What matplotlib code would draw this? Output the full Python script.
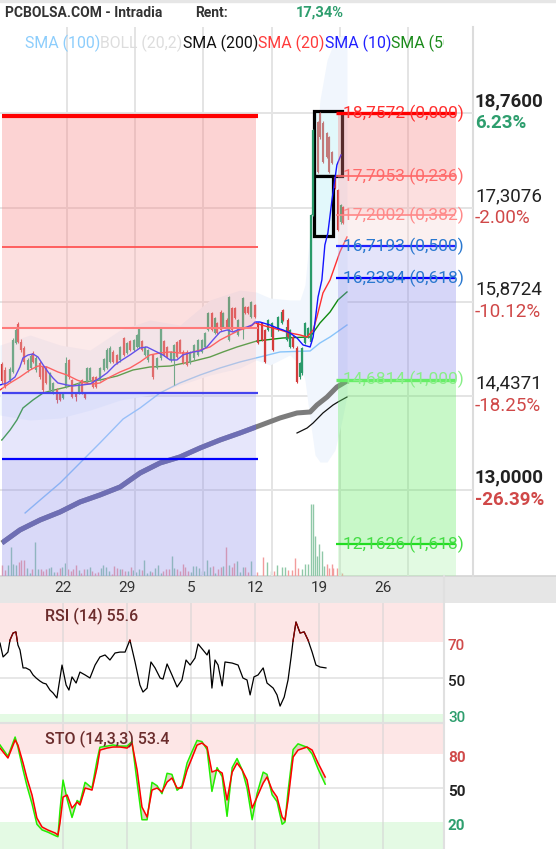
import numpy as np
import matplotlib
matplotlib.use("Agg")
import matplotlib.pyplot as plt
from matplotlib.patches import Rectangle
from matplotlib.lines import Line2D
from matplotlib.transforms import blended_transform_factory, offset_copy

plt.rcParams['font.family'] = ['Roboto', 'DejaVu Sans']

# ---------------- price bars (bar time, open, high, low, close) ----------------
candle_t = [0.7, 1.8, 3.7, 4.8, 5.9, 6.6, 7.7, 8.8, 10.3, 11.4, 12.1, 13.2, 14.7, 15.8, 16.8,
            18.3, 19.4, 20.9, 22.0, 23.1, 24.2, 25.3, 26.4, 27.8, 28.9, 30.0, 31.1, 31.9, 33.0,
            34.1, 35.2, 36.6, 38.1, 39.2, 40.3, 41.4, 42.9, 44.0, 45.4, 46.5, 47.6, 49.1, 50.2,
            50.9, 52.0, 53.1, 54.2, 56.0, 57.5, 59.0, 60.1, 61.2, 62.6, 63.7, 64.8, 65.9, 67.0,
            68.5, 69.6, 71.1, 72.5, 74.0, 75.1, 76.2, 77.7, 78.8, 79.5, 81.0, 81.7, 83.2, 83.9,
            85.0, 86.1, 87.2, 89.0, 89.7, 90.8, 91.9, 93.4, 94.5, 96.0, 97.1, 98.2, 99.6, 100.0,
            101.8, 103.3, 103.7, 105.1, 105.5, 106.2, 107.3, 108.8, 109.9, 110.6, 111.7, 112.8,
            113.9, 114.7, 122.7, 123.8, 124.9, 125.6]
opens = [14.92, 14.83, 14.68, 14.80, 15.24, 15.53, 15.26, 15.17, 14.83, 14.86, 15.09, 14.83, 14.94, 14.88, 14.86,
         14.52, 14.48, 14.52, 14.48, 14.40, 14.57, 14.98, 14.68, 14.48, 14.48, 14.68, 14.48, 14.63, 14.68,
         14.72, 14.72, 14.68, 14.83, 14.86, 14.95, 15.11, 15.06, 14.98, 15.32, 15.09, 15.27, 15.14, 15.18,
         15.18, 15.27, 15.06, 14.98, 15.06, 14.86, 15.01, 15.27, 15.18, 14.98, 14.98, 15.26, 15.29, 15.11,
         15.11, 14.94, 15.01, 15.06, 15.11, 15.18, 15.44, 15.70, 15.40, 15.55, 15.72, 15.49, 15.60, 15.29,
         15.78, 15.78, 15.37, 15.49, 15.79, 15.79, 15.64, 15.82, 15.55, 15.55, 15.44, 15.44, 15.34, 15.49,
         15.44, 15.55, 15.75, 15.29, 15.60, 15.18, 15.34, 15.17, 14.72, 14.78, 15.24, 15.34,
         15.26, 17.20, 17.78, 17.58, 17.09, 17.32]
highs = [14.96, 14.88, 14.88, 15.32, 15.47, 15.56, 15.30, 15.20, 15.01, 15.07, 15.12, 15.04, 14.97, 14.90, 14.89,
         14.80, 14.65, 14.55, 14.50, 14.50, 15.03, 15.00, 14.70, 14.50, 14.65, 14.70, 14.50, 14.88, 14.88,
         14.74, 14.74, 14.88, 15.02, 15.16, 15.19, 15.13, 15.08, 15.20, 15.34, 15.26, 15.29, 15.31, 15.38,
         15.47, 15.29, 15.20, 15.15, 15.08, 15.03, 15.47, 15.29, 15.20, 15.12, 15.23, 15.28, 15.31, 15.13,
         15.13, 15.12, 15.23, 15.30, 15.30, 15.41, 15.72, 15.72, 15.64, 15.57, 15.74, 15.72, 15.62, 15.96,
         15.80, 15.80, 15.61, 15.95, 15.81, 15.81, 15.89, 15.84, 15.57, 15.57, 15.46, 15.61, 15.57, 15.51,
         15.66, 15.74, 15.77, 15.50, 15.62, 15.46, 15.36, 15.19, 14.95, 15.18, 15.57, 15.49,
         17.22, 18.52, 17.80, 17.60, 17.37, 17.34]
lows = [14.62, 14.55, 14.64, 14.78, 15.22, 15.24, 15.10, 14.92, 14.80, 14.84, 14.93, 14.80, 14.70, 14.50, 14.61,
        14.50, 14.46, 14.33, 14.35, 14.38, 14.55, 14.70, 14.40, 14.36, 14.46, 14.46, 14.38, 14.61, 14.66,
        14.55, 14.55, 14.66, 14.81, 14.84, 14.93, 14.93, 14.92, 14.96, 15.04, 15.07, 15.12, 15.12, 15.16,
        15.16, 15.12, 15.04, 14.96, 14.70, 14.84, 14.99, 15.04, 15.01, 14.96, 14.60, 15.01, 15.09, 14.92,
        14.89, 14.92, 14.99, 15.04, 15.09, 15.16, 15.42, 15.42, 15.38, 15.38, 15.42, 15.47, 15.45, 15.27,
        15.42, 15.61, 15.35, 15.30, 15.68, 15.68, 15.62, 15.62, 15.22, 15.27, 14.93, 15.42, 15.32, 15.12,
        15.42, 15.53, 15.58, 15.27, 15.32, 15.16, 15.16, 14.63, 14.70, 14.76, 15.22, 15.32,
        15.24, 17.18, 17.60, 16.95, 17.07, 17.06]
closes = [14.66, 14.59, 14.85, 15.29, 15.44, 15.26, 15.14, 14.95, 14.98, 15.04, 14.95, 15.01, 14.72, 14.52, 14.63,
          14.78, 14.63, 14.37, 14.37, 14.48, 14.94, 14.72, 14.42, 14.42, 14.63, 14.48, 14.40, 14.86, 14.86,
          14.57, 14.57, 14.86, 15.00, 15.14, 15.17, 14.95, 14.94, 15.18, 15.06, 15.24, 15.14, 15.29, 15.37,
          15.46, 15.14, 15.18, 15.14, 14.72, 15.01, 15.46, 15.06, 15.03, 15.11, 15.21, 15.03, 15.11, 14.94,
          14.91, 15.11, 15.21, 15.29, 15.29, 15.40, 15.70, 15.44, 15.63, 15.40, 15.44, 15.70, 15.47, 15.95,
          15.44, 15.63, 15.60, 15.93, 15.70, 15.70, 15.87, 15.64, 15.24, 15.29, 14.95, 15.60, 15.55, 15.14,
          15.64, 15.72, 15.60, 15.49, 15.34, 15.44, 15.18, 14.65, 14.94, 15.17, 15.55, 15.47,
          17.20, 18.50, 17.61, 16.97, 17.35, 17.08]

# bars traded inside the two session boxes
box_bar_t = [116.5, 117.2, 118.3, 119.8, 120.5, 121.6]
box_bar_hi = [18.64, 18.78, 18.63, 18.47, 18.41, 18.18]
box_bar_lo = [17.84, 18.37, 17.99, 18.07, 17.84, 17.98]
box_bar_open = [18.62, 18.76, 18.61, 18.45, 18.39, 18.16]
box_bar_close = [17.86, 18.39, 18.01, 18.09, 17.86, 18.00]
session_boxes = [(115.0, 125.3, 17.797, 18.79), (115.0, 122.0, 16.879, 17.797)]

# volume (thousands)
vol_t = list(np.arange(92) + 0.85) + [94.1, 96.3, 97.8, 99.3, 100.4, 101.5, 103.3, 104.4, 105.5, 107.0,
                                       108.1, 109.2, 110.6, 111.7, 112.8, 113.9, 114.7, 115.4, 116.1, 116.8,
                                       117.9, 118.7, 119.8, 120.5, 121.6, 122.0, 123.4, 124.5, 125.3]
volumes = [11, 6, 11, 29, 12, 11, 14, 16, 16, 8, 3, 7, 34, 7, 7, 5, 7, 8, 9, 4,
           4, 8, 9, 13, 7, 5, 7, 11, 6, 3, 7, 7, 9, 5, 3, 4, 8, 11, 9, 5,
           2, 10, 8, 7, 7, 5, 5, 9, 6, 4, 7, 6, 16, 3, 5, 4, 8, 11, 3, 5,
           7, 7, 20, 8, 7, 5, 12, 9, 5, 4, 10, 10, 8, 5, 5, 16, 9, 10, 3, 7,
           9, 10, 29, 11, 9, 13, 15, 4, 9, 9, 4, 15,
           4, 19, 14, 5, 5, 11, 9, 9, 6, 6, 18, 8, 7, 12, 12, 72, 72, 40, 20, 32,
           25, 10, 12, 8, 12, 8, 8, 4, 3]

# moving averages
sma10_t = [0, 2.6, 5.5, 7.3, 8.4, 10.3, 12.1, 13.9, 15.8, 17.6, 19.4, 21.2, 24.5, 26.7, 30.0, 33.0, 36.6,
           39.2, 42.1, 44.7, 47.6, 51.3, 53.8, 56.0, 59.7, 62.3, 64.8, 67.0, 70.7, 73.3, 75.8, 78.0, 80.6,
           83.2, 85.3, 87.9, 90.5, 92.3, 93.4, 95.2, 98.9, 101.5, 103.7, 106.2, 108.8, 111.0, 113.6, 114.7,
           116.5, 117.9, 119.0, 120.1, 121.6, 123.4, 124.9]
sma10 = [14.601, 14.632, 14.723, 14.876, 15.014, 15.060, 15.075, 15.029, 14.907, 14.800, 14.708, 14.632,
         14.601, 14.586, 14.601, 14.616, 14.708, 14.785, 14.907, 14.983, 15.060, 15.167, 15.182, 15.136,
         15.060, 14.983, 14.983, 15.060, 15.106, 15.121, 15.182, 15.289, 15.411, 15.442, 15.411, 15.457,
         15.488, 15.518, 15.564, 15.564, 15.518, 15.472, 15.442, 15.396, 15.320, 15.213, 15.182, 15.335,
         15.947, 16.207, 16.742, 16.925, 17.430, 17.965, 18.118]
sma20_t = [0, 3.7, 7.3, 11.0, 13.9, 17.2, 21.2, 24.5, 28.2, 31.1, 34.1, 36.6, 40.3, 44.0, 47.6, 51.3, 54.9,
           58.6, 62.3, 65.9, 69.6, 73.3, 76.9, 80.6, 84.2, 87.9, 91.6, 93.4, 97.1, 102.6, 106.2, 109.9,
           112.5, 114.7, 116.1, 118.3, 120.9, 124.5, 127.1]
sma20 = [14.525, 14.632, 14.723, 14.830, 14.891, 14.876, 14.800, 14.754, 14.677, 14.632, 14.616, 14.632,
         14.723, 14.800, 14.861, 14.953, 15.060, 15.090, 15.106, 15.090, 15.090, 15.136, 15.182, 15.289,
         15.366, 15.442, 15.488, 15.549, 15.503, 15.442, 15.396, 15.366, 15.335, 15.442, 15.641, 16.008,
         16.207, 16.635, 16.864]
sma50_t = [0.7, 3.7, 6.2, 8.4, 12.1, 15.8, 18.3, 24.5, 30.4, 36.6, 42.9, 48.7, 54.9, 62.3, 69.6, 76.9,
           81.7, 86.8, 91.6, 94.1, 103.7, 113.6, 117.2, 120.9, 123.8, 127.1]
sma50 = [13.760, 13.913, 14.066, 14.249, 14.372, 14.479, 14.509, 14.570, 14.647, 14.677, 14.738, 14.830,
         14.876, 14.891, 14.953, 15.029, 15.106, 15.182, 15.243, 15.274, 15.320, 15.335, 15.549, 15.717,
         15.901, 16.023]
sma100_t = [9.2, 14.7, 22.0, 29.3, 36.6, 45.1, 51.3, 58.6, 65.9, 73.3, 80.6, 87.9, 95.2, 102.6, 113.6,
            117.2, 120.9, 127.1]
sma100 = [12.644, 12.842, 13.102, 13.408, 13.714, 14.081, 14.249, 14.479, 14.632, 14.754, 14.861, 14.953,
          15.029, 15.106, 15.121, 15.243, 15.335, 15.518]
sma200_t = [108.8, 112.5, 114.7, 118.3, 122.0, 123.8, 127.1]
sma200 = [13.867, 13.943, 14.020, 14.173, 14.295, 14.341, 14.417]
trend_t = [0.7, 7.3, 14.7, 22.0, 29.3, 36.6, 44.0, 51.3, 58.6, 65.9, 73.3, 80.6, 87.9, 93.8, 102.6,
           108.8, 113.6, 116.1, 119.8, 123.4, 127.1]
trend = [12.185, 12.384, 12.537, 12.659, 12.812, 12.919, 13.041, 13.255, 13.408, 13.500, 13.638, 13.760,
         13.867, 13.959, 14.097, 14.173, 14.188, 14.295, 14.417, 14.570, 14.662]
boll_t = [0, 11.0, 22.0, 33.0, 44.0, 54.9, 65.9, 76.9, 87.9, 93.8, 98.9, 106.2, 109.9, 111.7, 113.6,
          115.4, 117.2, 119.8, 122.7, 125.3, 127.1]
boll_up = [15.212, 15.365, 15.212, 15.136, 15.442, 15.595, 15.518, 15.901, 16.053, 16.023, 15.931, 15.901,
           15.901, 16.130, 16.971, 18.041, 18.959, 19.571, 19.877, 19.953, 19.907]
boll_lo = [14.142, 14.066, 14.096, 14.218, 14.371, 14.448, 14.601, 14.754, 14.861, 14.983, 14.907, 15.060,
           14.907, 14.677, 14.066, 13.531, 13.423, 13.423, 13.607, 14.066, 14.448]

# Fibonacci retracements
old_fib_levels = [18.714, 16.711, 15.473, 14.479, 13.470]
fib_levels = [18.7572, 17.7953, 17.2002, 16.7193, 16.2384, 14.6814, 12.1626]
fib_ratios = [0.0, 0.236, 0.382, 0.5, 0.618, 1.0, 1.618]

# axis labels
week_t = [24.5, 49.5, 74.5, 99.5, 124.5, 149.5]
week_lbl = ['22', '29', '5', '12', '19', '26']
price_grid = [18.76, 17.3076, 15.8724, 14.4371, 13.0]
price_lbl = ['18,7600', '17,3076', '15,8724', '14,4371', '13,0000']
pct_lbl = ['6.23%', '-2.00%', '-10.12%', '-18.25%', '-26.39%']
price_bold = [True, False, False, False, True]
rent_lbl = '17,34%'

# oscillators
rsi_t = [0, 1.2, 2.0, 3.1, 3.9, 5.1, 6.2, 7.0, 7.8, 9.0, 10.1, 11.7, 12.9, 14.1, 15.6, 16.8, 18.0, 19.5,
         20.7, 22.2, 24.2, 25.8, 26.9, 28.1, 29.7, 31.2, 33.2, 35.1, 37.1, 39.0, 41.0, 42.9, 44.9, 46.8,
         48.8, 50.7, 52.7, 54.6, 55.8, 57.4, 58.9, 60.5, 62.5, 63.6, 65.2, 67.1, 69.1, 71.0, 72.6, 74.2,
         76.1, 77.3, 79.2, 80.8, 81.6, 82.7, 83.9, 85.1, 86.7, 87.8, 90.6, 92.9, 94.8, 96.4, 97.6, 99.1,
         100.7, 102.7, 104.2, 106.6, 108.1, 109.3, 110.9, 112.4, 113.6, 114.4, 115.5, 117.1, 118.7, 120.2,
         121.8, 123.3, 124.9, 127.2]
rsi_val = [69.4, 61.7, 62.8, 64.4, 71.1, 75.0, 75.6, 68.3, 65.6, 55.6, 55.6, 54.4, 51.7, 50.0, 48.3, 47.2,
           46.7, 43.3, 41.7, 38.9, 57.2, 46.1, 43.3, 50.6, 47.2, 53.3, 51.7, 50.0, 57.2, 61.7, 62.8, 60.0,
           63.9, 64.4, 64.4, 71.1, 58.9, 46.1, 42.2, 44.4, 58.9, 55.6, 50.0, 49.4, 57.8, 51.7, 45.0, 48.9,
           60.0, 57.2, 61.1, 68.9, 65.6, 62.8, 65.6, 44.4, 60.0, 57.2, 45.6, 58.9, 58.3, 57.2, 50.0, 48.9,
           40.6, 50.6, 51.7, 55.6, 47.2, 44.4, 40.6, 34.4, 39.4, 48.9, 61.7, 71.1, 81.1, 75.0, 75.6, 71.1,
           64.4, 57.2, 56.1, 55.6]
sto_t = [0, 3.1, 5.9, 7.0, 9.0, 10.5, 12.5, 14.4, 16.4, 18.7, 21.5, 22.6, 23.4, 24.6, 26.2, 28.1, 30.1,
         31.2, 33.2, 35.9, 37.9, 39.0, 41.8, 44.1, 46.8, 49.6, 51.5, 53.5, 55.4, 57.4, 59.3, 61.3, 63.2,
         65.2, 67.1, 69.1, 71.0, 73.0, 74.9, 76.9, 78.8, 80.8, 82.7, 84.7, 86.7, 88.6, 90.6, 92.5, 94.5,
         96.4, 98.4, 100.3, 102.7, 104.2, 106.2, 108.1, 110.1, 111.2, 112.4, 114.4, 116.3, 119.8, 121.8,
         124.1, 126.9]
sto_k = [88, 78, 95, 86, 66, 52, 36, 18, 13, 11, 8, 7, 30, 57, 40, 24, 39, 37, 55, 50, 75, 86, 87, 88, 87,
         87, 91, 55, 22, 22, 55, 52, 45, 63, 62, 48, 52, 72, 82, 92, 91, 84, 47, 68, 60, 25, 68, 76, 66, 50,
         22, 45, 64, 62, 44, 38, 18, 20, 47, 84, 89, 86, 80, 67, 53.4]
sto_d = [85.3, 76.5, 92.4, 87.9, 72.1, 58.8, 43.8, 23.5, 15.6, 12.9, 10.3, 8.5, 19.1, 42.0, 43.8, 32.3, 37.6,
         35.0, 50.0, 48.2, 68.5, 83.5, 85.3, 86.2, 86.2, 85.3, 89.7, 65.9, 33.2, 24.4, 48.2, 50.0, 46.5, 55.3,
         58.8, 50.0, 50.0, 65.9, 76.5, 87.9, 89.7, 86.2, 64.1, 65.9, 63.2, 39.4, 64.1, 72.1, 65.9, 57.1, 32.3,
         42.0, 54.4, 59.7, 48.2, 42.0, 24.4, 21.7, 39.4, 77.4, 83.5, 86.2, 83.5, 72.1, 59.7]

# ---------------- layout ----------------
W, H = 556, 849
fig = plt.figure(figsize=(W / 100, H / 100), dpi=100)
fig.patch.set_facecolor('white')


def frame(x0, y0, x1, y1):
    return [x0 / W, 1 - y1 / H, (x1 - x0) / W, (y1 - y0) / H]


SPAN = 173.26
P_LO, P_HI = 11.68, 20.075
UP, DOWN = '#2a9a6a', '#d43c3c'
OLD_T0, OLD_T1 = 0.7, 93.8

ax_vol = fig.add_axes(frame(0, 27, 473, 576))
ax_vol.set_zorder(1)
ax_vol.set_xlim(0, SPAN)
ax_vol.set_ylim(0, 549)
ax_vol.axis('off')

ax = fig.add_axes(frame(0, 27, 473, 576))
ax.set_zorder(2)
ax.set_xlim(0, SPAN)
ax.set_ylim(P_LO, P_HI)
ax.axis('off')

# grid
for t in week_t:
    ax.axvline(t, color='#e4e4e4', lw=1.4, zorder=0.5)
for p in price_grid:
    ax.axhline(p, color='#e4e4e4', lw=1.4, zorder=0.5)

# volume
c_t = np.array(candle_t)
c_up = np.array(closes) >= np.array(opens)
vol_cols = []
for t in vol_t:
    j = int(np.argmin(np.abs(c_t - t)))
    vol_cols.append('#8fc8a8' if c_up[j] else '#f29c9c')
ax_vol.vlines(vol_t, 0, volumes, colors=vol_cols, lw=1.0)

# bollinger envelope
ax.fill_between(boll_t, boll_lo, boll_up, color='#f1f6fd', lw=0, zorder=1)

# averages
ax.plot(trend_t, trend, color='#7c7c7c', lw=3.6, zorder=2, solid_capstyle='butt')
shaded, = ax.plot(trend_t, trend, color='#6e6eb4', lw=3.6, zorder=5.5, solid_capstyle='butt')
shaded.set_clip_path(Rectangle((OLD_T0, P_LO), OLD_T1 - OLD_T0, 10, transform=ax.transData))
ax.plot(sma100_t, sma100, color='#88c4fa', lw=1.0, zorder=2.1)
ax.plot(sma200_t, sma200, color='#111111', lw=0.9, zorder=2.1)
ax.plot(sma50_t, sma50, color='#108a10', lw=1.0, zorder=2.2)

# session boxes
for t0, t1, p0, p1 in session_boxes:
    ax.add_patch(Rectangle((t0, p0), t1 - t0, p1 - p0, facecolor='#e2f8fb', edgecolor='black',
                           lw=2.3, zorder=3))
ax.vlines(box_bar_t, box_bar_lo, box_bar_hi, colors='#c27a7a', lw=0.8, zorder=3.5)
ax.vlines(box_bar_t, np.minimum(box_bar_open, box_bar_close), np.maximum(box_bar_open, box_bar_close),
          colors='#c27a7a', lw=1.5, zorder=3.5)

# candles
cols = [UP if u else DOWN for u in c_up]
ax.vlines(candle_t, lows, highs, colors=cols, lw=0.8, zorder=3)
ax.vlines(candle_t, np.minimum(opens, closes), np.maximum(opens, closes), colors=cols, lw=1.6, zorder=3)

ax.plot(sma20_t, sma20, color='#ff3030', lw=1.0, zorder=4)
ax.plot(sma10_t, sma10, color='#1414ff', lw=1.0, zorder=4.1)

# older retracement (left block)
old_fill = ['#f98181', '#f9a6a6', '#f9c3c3', '#b8b8f6', '#9292eb']
old_line = ['#ff0000', '#ff5555', '#ff7a7a', '#4444ee', '#0000ff']
old_lw = [3.0, 1.3, 1.5, 1.6, 1.6]
bounds = old_fib_levels + [P_LO]
for i, c in enumerate(old_fill):
    ax.fill_between([OLD_T0, OLD_T1], bounds[i + 1], bounds[i], color=c, alpha=0.35, lw=0, zorder=5)
for lv, c, w in zip(old_fib_levels, old_line, old_lw):
    ax.plot([OLD_T0, 94.5], [lv, lv], color=c, lw=w, zorder=6, solid_capstyle='butt')

# current retracement (right block)
fib_fill = ['#f98181', '#f9a6a6', '#f6d4d4', '#b2b2f1', '#8a8aeb', '#62eb62', '#acf1ac']
fib_line = ['#ff0000', '#ff6666', '#ff8888', '#2222ff', '#0000ff', '#66ee66', '#22dd22']
fib_txt = ['#ff3030', '#ff6a6a', '#ff8a8a', '#2a78d0', '#2a78d0', '#88ee88', '#44dd44']
fib_lw = [2.4, 1.2, 1.2, 1.6, 1.6, 2.4, 1.6]
bounds = fib_levels + [P_LO]
for i, c in enumerate(fib_fill):
    ax.fill_between([123.8, 167.0], bounds[i + 1], bounds[i], color=c, alpha=0.35, lw=0, zorder=5)
for lv, r, c, tc, w in zip(fib_levels, fib_ratios, fib_line, fib_txt, fib_lw):
    ax.plot([123.1, 166.7], [lv, lv], color=c, lw=w, zorder=6, solid_capstyle='butt')
    ax.text(125.6, lv, f"{lv:.4f} ({r:.3f})".replace('.', ','), color=tc, fontsize=12.5,
            va='center', ha='left', zorder=7)

# right price scale
tr_price = blended_transform_factory(fig.transFigure, ax.transData)
for p, pl, pc, b in zip(price_grid, price_lbl, pct_lbl, price_bold):
    wgt = 'bold' if b else 'normal'
    pcol = '#2e9e6e' if pc[0] != '-' else '#d04848'
    ax.text(475 / W, p, pl, transform=offset_copy(tr_price, fig=fig, y=12, units='dots'),
            fontsize=13.5, fontweight=wgt, color='#222222', va='center', ha='left', clip_on=False)
    ax.text(475 / W, p, pc, transform=offset_copy(tr_price, fig=fig, y=-10, units='dots'),
            fontsize=13.5, fontweight=wgt, color=pcol, va='center', ha='left', clip_on=False)

fig.add_artist(Line2D([473 / W] * 2, [1 - 27 / H, 1 - 576 / H], color='#dcdcdc', lw=1.5,
                      transform=fig.transFigure))
fig.add_artist(Rectangle((0, 1 - 2 / H), 1, 2 / H, transform=fig.transFigure, color='#e6e6e6'))

# header
fig.text(5 / W, 1 - 13 / H, 'PCBOLSA.COM - Intradia', fontsize=10, fontweight='bold', color='#333333',
         va='center')
fig.text(195 / W, 1 - 13 / H, 'Rent:', fontsize=10, fontweight='bold', color='#333333', va='center')
fig.text(296 / W, 1 - 13 / H, rent_lbl, fontsize=10.5, fontweight='bold', color='#2e9e6e', va='center')

# indicator legend
ax_leg = fig.add_axes(frame(0, 27, 444, 60))
ax_leg.set_zorder(10)
ax_leg.set_xlim(0, 444)
ax_leg.set_ylim(0, 1)
ax_leg.axis('off')
legend_items = [('SMA (100)', '#8ccdfc'), ('BOLL (20,2)', '#dddddd'), ('SMA (200)', '#111111'),
                ('SMA (20)', '#ff3a3a'), ('SMA (10)', '#2020ff'), ('SMA (50)', '#1a8a1a')]
fig.canvas.draw()
rend = fig.canvas.get_renderer()
xpos = 25.0
for lbl, c in legend_items:
    tx = ax_leg.text(xpos, 0.515, lbl, color=c, fontsize=11.4, va='center', ha='left', clip_on=True)
    bb = tx.get_window_extent(rend)
    xpos += bb.width


def osc_axes(y0, y1, lo, hi):
    a = fig.add_axes(frame(0, y0, 444, y1))
    a.set_xlim(0, SPAN)
    a.set_ylim(lo, hi)
    for s in a.spines.values():
        s.set_visible(False)
    a.set_xticks([])
    a.set_yticks([])
    return a


# date band with week labels (same time scale as the oscillators)
ax_band = fig.add_axes(frame(0, 576, 556, 603))
ax_band.set_xlim(0, SPAN * 556 / 444)
ax_band.set_ylim(0, 1)
ax_band.set_facecolor('#e6e6e6')
for s in ax_band.spines.values():
    s.set_visible(False)
ax_band.spines['top'].set_visible(True)
ax_band.spines['top'].set_color('#d4d4d4')
ax_band.spines['top'].set_linewidth(1.2)
ax_band.set_xticks([])
ax_band.set_yticks([])
for t, lbl in zip(week_t, week_lbl):
    ax_band.text(t, 0.55, lbl, ha='center', va='center', fontsize=11, color='#333333')

ax_rsi = osc_axes(603, 723, 25.0, 91.67)
ax_rsi.axhspan(70, 120, color='#fde6e6', lw=0, zorder=0)
ax_rsi.axhspan(-20, 30, color='#e4fae4', lw=0, zorder=0)
for t in week_t:
    ax_rsi.axvline(t, color='#d4d4d4', alpha=0.55, lw=1.4, zorder=0.5)
ax_rsi.axhline(50, color='#d4d4d4', alpha=0.55, lw=1.4, zorder=0.5)
ax_rsi.plot(rsi_t, rsi_val, color='black', lw=0.9, zorder=2)
hot, = ax_rsi.plot(rsi_t, rsi_val, color='#8b0000', lw=0.9, zorder=2.1)
hot.set_clip_path(Rectangle((0, 70), SPAN, 60, transform=ax_rsi.transData))

ax_sto = osc_axes(723, 849, -3.85, 107.4)
ax_sto.axhspan(80, 150, color='#fde6e6', lw=0, zorder=0)
ax_sto.axhspan(-20, 20, color='#e4fae4', lw=0, zorder=0)
for t in week_t:
    ax_sto.axvline(t, color='#d4d4d4', alpha=0.55, lw=1.4, zorder=0.5)
ax_sto.axhline(50, color='#d4d4d4', alpha=0.55, lw=1.4, zorder=0.5)
ax_sto.fill_between(sto_t, sto_k, sto_d, color='#cfcfb0', alpha=0.8, lw=0, zorder=1)
ax_sto.plot(sto_t, sto_k, color='#22ee00', lw=1.1, zorder=2)
ax_sto.plot(sto_t, sto_d, color='#ff0000', lw=1.1, zorder=2.1)
ax_sto.spines['top'].set_visible(True)
ax_sto.spines['top'].set_color('#e0e0e0')
ax_sto.spines['top'].set_linewidth(1.5)

fig.add_artist(Line2D([444 / W] * 2, [1 - 576 / H, 0], color='#e0e0e0', lw=1.5, transform=fig.transFigure,
                      zorder=3))

# oscillator scales and titles
for a, levels, wgt in [(ax_rsi, [(70, '#d04a4a'), (50, '#222222'), (30, '#2e9e6e')], 'medium'),
                       (ax_sto, [(80, '#d04a4a'), (50, '#222222'), (20, '#2e9e6e')], 'bold')]:
    tr = offset_copy(blended_transform_factory(fig.transFigure, a.transData), fig=fig, y=-4, units='dots')
    for lv, c in levels:
        a.text(448 / W, lv, str(lv), transform=tr, color=c, fontsize=11, fontweight=wgt,
               va='center', ha='left', clip_on=False)

fig.text(45 / W, 1 - 616 / H, f"RSI (14) {rsi_val[-1]:.1f}", color='#6b2c2c', fontsize=11.5,
         fontweight='medium', va='center')
fig.text(45 / W, 1 - 739 / H, f"STO (14,3,3) {sto_k[-1]:.1f}", color='#6b2c2c', fontsize=11.5,
         fontweight='medium', va='center')

fig.savefig('out.png', dpi=100)
